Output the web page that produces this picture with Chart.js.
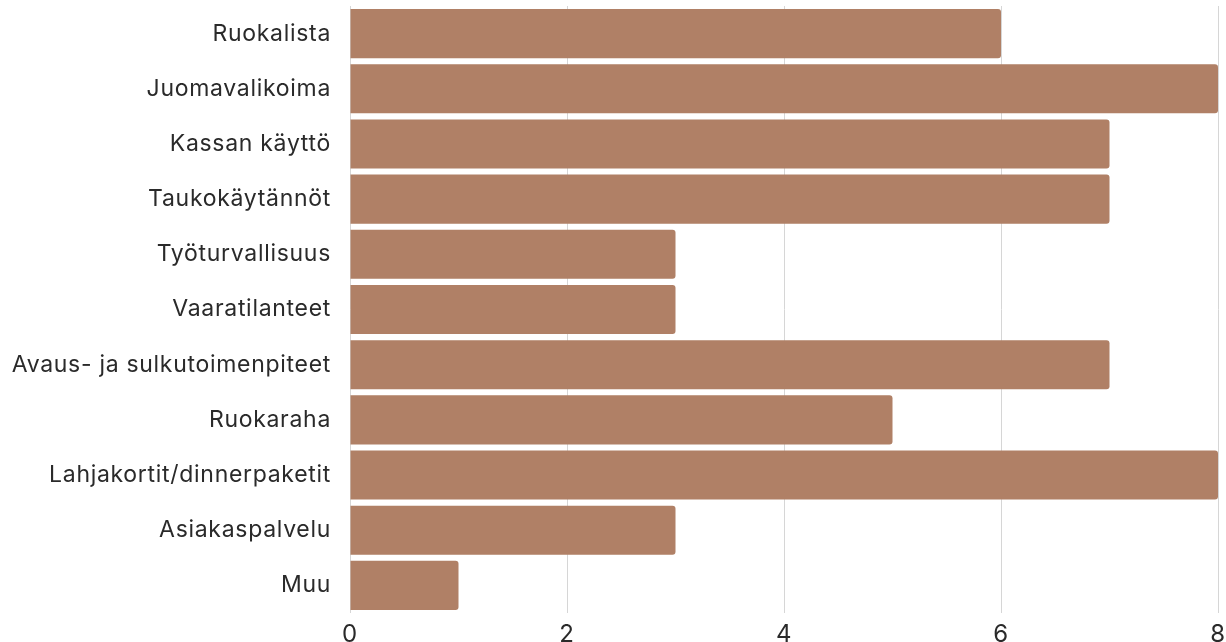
<!DOCTYPE html>
<html>
<head>
<meta charset="utf-8">
<script src="https://cdn.jsdelivr.net/npm/chart.js@4/dist/chart.umd.min.js"></script>
<style>
  html, body { margin: 0; padding: 0; background: #ffffff; overflow: hidden; }
  #wrap { position: relative; width: 1226px; height: 660px; }
</style>
</head>
<body>
<div id="wrap"><canvas id="c"></canvas></div>
<script>
const categories = [
  "Ruokalista",
  "Juomavalikoima",
  "Kassan käyttö",
  "Taukokäytännöt",
  "Työturvallisuus",
  "Vaaratilanteet",
  "Avaus- ja sulkutoimenpiteet",
  "Ruokaraha",
  "Lahjakortit/dinnerpaketit",
  "Asiakaspalvelu",
  "Muu"
];
const values = [6, 8, 7, 7, 3, 3, 7, 5, 8, 3, 1];
const xTicks = [0, 2, 4, 6, 8];

const FONT = "Inter, 'Noto Sans', sans-serif";

const spacing = {
  id: 'spacing',
  beforeDraw(chart) { chart.ctx.letterSpacing = '0.7px'; },
  afterDraw(chart) { chart.ctx.letterSpacing = '0px'; }
};

new Chart(document.getElementById('c'), {
  type: 'bar',
  data: {
    labels: categories,
    datasets: [{
      data: values,
      backgroundColor: '#b08066',
      borderWidth: 0,
      borderRadius: 3,
      barPercentage: 0.89,
      categoryPercentage: 1.0
    }]
  },
  plugins: [spacing],
  options: {
    indexAxis: 'y',
    responsive: true,
    maintainAspectRatio: false,
    animation: false,
    layout: { padding: { top: 6, right: 8, left: 0, bottom: 0 } },
    plugins: { legend: { display: false }, tooltip: { enabled: false } },
    scales: {
      x: {
        min: 0,
        max: 8,
        afterBuildTicks: (s) => { s.ticks = xTicks.map(v => ({ value: v })); },
        afterFit: (s) => { s.height = 47; s.paddingLeft = 0; s.paddingRight = 0; },
        grid: { color: '#d6d6d6', lineWidth: 1, drawTicks: false },
        border: { display: false },
        ticks: { color: '#2a2a2a', font: { family: FONT, size: 24 }, padding: 7, maxRotation: 0 }
      },
      y: {
        afterFit: (s) => { s.width = 350; s.paddingTop = 0; s.paddingBottom = 0; },
        grid: { display: false, drawTicks: false },
        border: { display: false },
        ticks: { color: '#2a2a2a', font: { family: FONT, size: 23 }, padding: 19 }
      }
    }
  }
});
</script>
</body>
</html>
